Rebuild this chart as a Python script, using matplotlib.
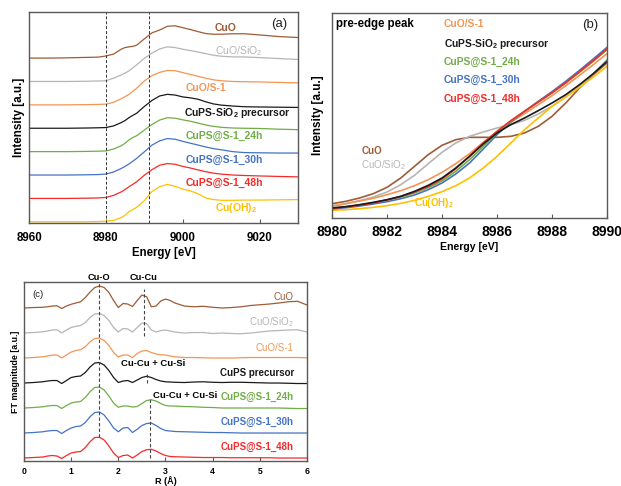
import matplotlib
matplotlib.use('Agg')
import matplotlib.pyplot as plt

plt.rcParams['font.family'] = ['Liberation Sans', 'DejaVu Sans']
plt.rcParams['mathtext.default'] = 'regular'

# ---------------- (a) XANES, stacked ----------------
energy_a = [8960, 8965, 8970, 8975, 8978, 8980, 8982, 8984, 8985, 8986, 8987, 8988,
            8990, 8992, 8994, 8996, 8998, 9000, 9002, 9004, 9006, 9008, 9010, 9013,
            9016, 9020, 9025, 9030]
cuo_a = [0, 0.0, 0.01, 0.03, 0.04, 0.09, 0.17, 0.38, 0.45, 0.48, 0.50, 0.55, 0.82, 1.08,
         1.2, 1.36, 1.38, 1.30, 1.22, 1.13, 1.05, 1.02, 1.02, 1.04, 1.04, 0.99, 0.92, 0.88]
cuo_sio2_a = [0, 0.0, 0.0, 0.01, 0.02, 0.03, 0.14, 0.28, 0.36, 0.45, 0.58, 0.71, 0.99, 1.21,
              1.39, 1.48, 1.45, 1.38, 1.32, 1.26, 1.19, 1.12, 1.08, 1.05, 1.05, 1.02, 0.98, 0.94]
cuo_s1_a = [0, 0, 0.0, 0.01, 0.02, 0.03, 0.11, 0.26, 0.35, 0.45, 0.58, 0.71, 1.02, 1.25,
            1.39, 1.47, 1.46, 1.38, 1.3, 1.22, 1.14, 1.07, 1.03, 1.0, 0.99, 0.98, 0.96, 0.94]
prec_a = [0, 0, 0.0, 0.01, 0.02, 0.03, 0.1, 0.24, 0.33, 0.45, 0.55, 0.64, 0.93, 1.19,
          1.38, 1.45, 1.42, 1.34, 1.3, 1.24, 1.13, 1.04, 0.99, 0.95, 0.92, 0.91, 0.9, 0.89]
h24_a = [0, 0, 0.0, 0.01, 0.02, 0.03, 0.11, 0.25, 0.36, 0.5, 0.6, 0.68, 0.92, 1.16,
         1.35, 1.45, 1.43, 1.36, 1.3, 1.22, 1.14, 1.08, 1.04, 1.01, 1.0, 0.99, 0.96, 0.94]
h30_a = [0, 0, 0.0, 0.01, 0.02, 0.04, 0.13, 0.28, 0.37, 0.47, 0.59, 0.71, 0.99, 1.28,
         1.46, 1.56, 1.53, 1.44, 1.36, 1.28, 1.2, 1.13, 1.08, 1.0, 0.96, 0.95, 0.94, 0.94]
h48_a = [0, 0, 0.0, 0.01, 0.02, 0.04, 0.13, 0.28, 0.38, 0.5, 0.6, 0.71, 0.99, 1.23,
         1.42, 1.49, 1.46, 1.37, 1.3, 1.22, 1.14, 1.08, 1.04, 1.0, 0.98, 0.96, 0.94, 0.92]
cuoh2_a = [0, 0, 0, 0.0, 0.01, 0.03, 0.06, 0.18, 0.28, 0.43, 0.52, 0.62, 0.9, 1.3,
           1.5, 1.6, 1.52, 1.4, 1.32, 1.2, 1.02, 0.95, 0.92, 0.92, 0.93, 0.93, 0.94, 0.95]

# ---------------- (b) pre-edge zoom ----------------
energy_b = [8980, 8980.5, 8981, 8981.5, 8982, 8982.5, 8983, 8983.5, 8984, 8984.5, 8985,
            8985.5, 8986, 8986.5, 8987, 8987.5, 8988, 8988.5, 8989, 8989.5, 8990]
cuo_b = [0.43, 0.50, 0.60, 0.73, 0.92, 1.20, 1.55, 1.90, 2.18, 2.35, 2.42, 2.42, 2.42,
         2.45, 2.55, 2.75, 3.05, 3.45, 3.90, 4.30, 4.65]
cuo_sio2_b = [0.35, 0.43, 0.52, 0.63, 0.78, 1.00, 1.28, 1.63, 1.97, 2.25, 2.45, 2.58, 2.70,
              2.80, 2.93, 3.12, 3.35, 3.63, 3.95, 4.33, 4.75]
cuo_s1_b = [0.37, 0.43, 0.51, 0.59, 0.70, 0.82, 0.97, 1.15, 1.37, 1.63, 1.93, 2.27, 2.59,
            2.87, 3.13, 3.40, 3.67, 3.97, 4.28, 4.60, 4.93]
prec_b = [0.30, 0.34, 0.40, 0.47, 0.55, 0.65, 0.80, 0.98, 1.20, 1.50, 1.85, 2.22, 2.55,
          2.80, 3.00, 3.22, 3.45, 3.70, 4.00, 4.33, 4.70]
h24_b = [0.30, 0.34, 0.39, 0.46, 0.54, 0.63, 0.75, 0.91, 1.11, 1.40, 1.75, 2.15, 2.55,
         2.90, 3.20, 3.48, 3.75, 4.05, 4.37, 4.70, 5.05]
h30_b = [0.27, 0.31, 0.36, 0.42, 0.49, 0.58, 0.69, 0.85, 1.05, 1.32, 1.65, 2.07, 2.50,
         2.88, 3.20, 3.50, 3.79, 4.10, 4.43, 4.77, 5.12]
h48_b = [0.29, 0.33, 0.38, 0.45, 0.54, 0.65, 0.78, 0.95, 1.17, 1.48, 1.85, 2.25, 2.60,
         2.92, 3.20, 3.48, 3.76, 4.06, 4.39, 4.72, 5.07]
cuoh2_b = [0.23, 0.25, 0.28, 0.32, 0.37, 0.44, 0.53, 0.65, 0.79, 0.97, 1.20, 1.50, 1.85,
           2.25, 2.65, 3.00, 3.35, 3.63, 3.92, 4.23, 4.55]

# ---------------- (c) FT-EXAFS, stacked ----------------
r_c = [0.0, 0.2, 0.4, 0.5, 0.6, 0.7, 0.8, 0.9, 1.0, 1.1, 1.2, 1.3, 1.4, 1.5, 1.6, 1.7,
       1.8, 1.9, 2.0, 2.1, 2.2, 2.3, 2.4, 2.5, 2.6, 2.7, 2.8, 2.9, 3.0, 3.1, 3.2, 3.4,
       3.6, 3.8, 4.0, 4.2, 4.4, 4.6, 4.8, 5.0, 5.2, 5.4, 5.6, 5.8, 6.0]
cuo_c = [0.0, 0.02, 0.03, 0.05, 0.08, 0.09, -0.02, 0.08, 0.15, 0.2, 0.25, 0.42, 0.64, 0.82,
         0.88, 0.82, 0.62, 0.3, 0.02, 0.18, 0.16, 0.06, 0.3, 0.52, 0.45, 0.05, 0.08, 0.28,
         0.36, 0.3, 0.2, 0.08, 0.05, 0.07, 0.03, 0.0, 0.02, 0.05, 0.1, 0.13, 0.16, 0.2,
         0.25, 0.27, 0.12]
cuo_sio2_c = [0.0, 0.02, 0.05, 0.08, 0.12, 0.13, 0.0, 0.12, 0.22, 0.27, 0.3, 0.42, 0.62,
              0.76, 0.78, 0.7, 0.5, 0.22, 0.04, 0.18, 0.16, 0.04, 0.22, 0.4, 0.38, 0.12,
              0.04, 0.1, 0.12, 0.08, 0.04, 0.0, 0.02, 0.02, -0.02, 0.0, -0.02, -0.03, 0.0,
              0.04, 0.08, 0.1, 0.12, 0.13, 0.04]
cuo_s1_c = [0.0, 0.02, 0.05, 0.08, 0.12, 0.12, 0.0, 0.12, 0.24, 0.3, 0.33, 0.45, 0.65, 0.78,
            0.8, 0.7, 0.5, 0.22, 0.04, 0.12, 0.12, 0.02, 0.18, 0.28, 0.3, 0.22, 0.16, 0.13,
            0.12, 0.08, 0.05, 0.02, 0.02, 0.01, 0.0, 0.0, 0.0, 0.01, 0.02, 0.02, 0.02, 0.02,
            0.02, 0.02, 0.01]
prec_c = [0.0, 0.02, 0.05, 0.08, 0.1, 0.1, -0.02, 0.1, 0.22, 0.26, 0.28, 0.42, 0.64, 0.8,
          0.82, 0.72, 0.5, 0.22, 0.02, 0.08, 0.1, 0.02, 0.12, 0.22, 0.27, 0.22, 0.14, 0.08,
          0.05, 0.04, 0.03, 0.02, 0.04, 0.05, 0.03, 0.02, 0.03, 0.03, 0.02, 0.01, 0.0, 0.0,
          -0.01, -0.02, -0.02]
h24_c = [0.0, 0.02, 0.05, 0.08, 0.1, 0.1, -0.02, 0.1, 0.2, 0.24, 0.26, 0.42, 0.65, 0.82,
         0.84, 0.72, 0.48, 0.2, 0.03, 0.08, 0.08, 0.04, 0.06, 0.18, 0.3, 0.33, 0.28, 0.18,
         0.1, 0.08, 0.08, 0.06, 0.05, 0.03, 0.02, 0.0, 0.0, 0.0, 0.0, 0.0, 0.0, 0.0, -0.01,
         -0.02, -0.02]
h30_c = [0.0, 0.02, 0.05, 0.08, 0.1, 0.1, -0.02, 0.1, 0.2, 0.26, 0.28, 0.42, 0.65, 0.82,
         0.84, 0.72, 0.48, 0.2, 0.05, 0.2, 0.22, 0.02, 0.15, 0.3, 0.38, 0.4, 0.3, 0.18, 0.1,
         0.08, 0.06, 0.05, 0.04, 0.03, 0.02, 0.02, 0.01, 0.0, 0.0, 0.0, 0.0, 0.0, 0.0, 0.0,
         0.0]
h48_c = [0.0, 0.02, 0.04, 0.08, 0.1, 0.08, -0.02, 0.1, 0.2, 0.24, 0.26, 0.42, 0.65, 0.82,
         0.83, 0.72, 0.48, 0.2, 0.02, 0.1, 0.12, 0.0, 0.12, 0.26, 0.33, 0.35, 0.28, 0.18,
         0.1, 0.06, 0.05, 0.04, 0.03, 0.02, 0.02, 0.02, 0.01, 0.01, 0.01, 0.01, 0.01, 0.0,
         0.0, 0.0, 0.0]

# colours
c_cuo = '#9e5b36'
c_sio2 = '#b5b5b5'
c_s1 = '#f39555'
c_prec = '#1a1a1a'
c_24 = '#70ad47'
c_30 = '#4472c4'
c_48 = '#f52a2a'
c_oh = '#ffc000'
spine_col = '#595959'

fig = plt.figure(figsize=(6.21, 4.86), dpi=100)


def style_axes(ax, tick_size, pad):
    for s in ax.spines.values():
        s.set_color(spine_col)
        s.set_linewidth(1.0)
    ax.set_yticks([])
    ax.tick_params(axis='x', direction='in', length=3, color=spine_col,
                   labelsize=tick_size, pad=pad)
    for lab in ax.get_xticklabels():
        lab.set_fontweight('bold')


# ---- panel (a)
ax_a = fig.add_axes([0.0467, 0.5412, 0.4332, 0.4341])
series_a = [(cuo_a, 7, c_cuo), (cuo_sio2_a, 6, c_sio2), (cuo_s1_a, 5, c_s1),
            (prec_a, 4, c_prec), (h24_a, 3, c_24), (h30_a, 2, c_30),
            (h48_a, 1, c_48), (cuoh2_a, 0, c_oh)]
for vals, off, col in series_a:
    ax_a.plot(energy_a, [v + off for v in vals], color=col, lw=0.9)
ax_a.axvline(8980, color='#333333', ls='--', lw=0.7, dashes=(3, 2))
ax_a.axvline(8991.2, color='#333333', ls='--', lw=0.7, dashes=(3, 2))
ax_a.set_xlim(8960, 9030)
ax_a.set_ylim(-0.05, 8.97)
ax_a.set_xticks([8960, 8980, 9000, 9020])
style_axes(ax_a, 8.3, 6.5)
ax_a.set_ylabel('Intensity [a.u.]', fontsize=8.4, fontweight='bold', labelpad=3)
ax_a.set_xlabel('Energy [eV]', fontsize=8.3, fontweight='bold', labelpad=2)

labels_a = [('CuO', 9008.3, 8.29, c_cuo, 'bold'),
            ('CuO/SiO$_2$', 9008.4, 7.28, c_sio2, 'normal'),
            ('CuO/S-1', 9000.7, 5.72, c_s1, 'bold'),
            ('CuPS-SiO$_2$ precursor', 9000.3, 4.64, c_prec, 'bold'),
            ('CuPS@S-1_24h', 9000.7, 3.65, c_24, 'bold'),
            ('CuPS@S-1_30h', 9000.7, 2.66, c_30, 'bold'),
            ('CuPS@S-1_48h', 9000.7, 1.66, c_48, 'bold'),
            ('Cu(OH)$_2$', 9008.4, 0.61, c_oh, 'bold')]
for txt, x, y, col, w in labels_a:
    ax_a.text(x, y, txt, color=col, fontsize=7.5, fontweight=w, va='center', ha='left')
ax_a.text(9025.2, 8.44, '(a)', fontsize=9.5, va='center', ha='center', color='#222222')

# ---- panel (b)
ax_b = fig.add_axes([0.5346, 0.5514, 0.4429, 0.4219])
series_b = [(cuo_b, c_cuo), (cuo_sio2_b, c_sio2), (cuoh2_b, c_oh), (cuo_s1_b, c_s1),
            (h30_b, c_30), (h24_b, c_24), (h48_b, c_48), (prec_b, c_prec)]
for vals, col in series_b:
    ax_b.plot(energy_b, vals, color=col, lw=1.2)
ax_b.set_xlim(8980, 8990)
ax_b.set_ylim(0, 6.15)
ax_b.set_xticks([8980, 8982, 8984, 8986, 8988, 8990])
style_axes(ax_b, 10, 5)
ax_b.set_ylabel('Intensity [a.u.]', fontsize=8.5, fontweight='bold', labelpad=6)
ax_b.set_xlabel('Energy [eV]', fontsize=7.6, fontweight='bold', labelpad=2)

ax_b.text(8980.16, 5.83, 'pre-edge peak', fontsize=8.3, fontweight='bold', va='center')
labels_b = [('CuO/S-1', 5.83, c_s1), ('CuPS-SiO$_2$ precursor', 5.22, c_prec),
            ('CuPS@S-1_24h', 4.67, c_24), ('CuPS@S-1_30h', 4.13, c_30),
            ('CuPS@S-1_48h', 3.58, c_48)]
for txt, y, col in labels_b:
    ax_b.text(8984.06, y, txt, color=col, fontsize=7.4, fontweight='bold', va='center')
ax_b.text(8981.07, 2.0, 'CuO', color=c_cuo, fontsize=7.0, fontweight='bold', va='center')
ax_b.text(8981.05, 1.58, 'CuO/SiO$_2$', color=c_sio2, fontsize=7.0, va='center')
ax_b.text(8983.0, 0.45, 'Cu(OH)$_2$', color=c_oh, fontsize=7.0, fontweight='bold',
          va='center')
ax_b.text(8989.37, 5.8, '(b)', fontsize=9.5, va='center', ha='center', color='#222222')

# ---- panel (c)
ax_c = fig.add_axes([0.0386, 0.0514, 0.4558, 0.3683])
series_c = [(cuo_c, 6, c_cuo), (cuo_sio2_c, 5, c_sio2), (cuo_s1_c, 4, c_s1),
            (prec_c, 3, c_prec), (h24_c, 2, c_24), (h30_c, 1, c_30), (h48_c, 0, c_48)]
for vals, off, col in series_c:
    ax_c.plot(r_c, [v + off for v in vals], color=col, lw=0.9)
ax_c.set_xlim(0, 6)
ax_c.set_ylim(-0.12, 7.04)
ax_c.set_xticks([0, 1, 2, 3, 4, 5, 6])
style_axes(ax_c, 6.2, 4.5)
ax_c.set_ylabel('FT magnitude [a.u.]', fontsize=6.4, fontweight='bold', labelpad=3)
ax_c.set_xlabel('R (Å)', fontsize=6.5, fontweight='bold')
ax_c.xaxis.set_label_coords(0.5, -0.082)

# dashed guide lines
dash_kw = dict(color='#444444', ls='--', lw=0.8, dashes=(3, 2))
ax_c.plot([1.58, 1.58], [0.85, 7.04], **dash_kw)
ax_c.plot([2.54, 2.54], [4.88, 6.75], **dash_kw)
ax_c.plot([2.61, 2.61], [3.0, 3.45], **dash_kw)
ax_c.plot([2.67, 2.67], [0.0, 2.45], **dash_kw)

ax_c.text(1.58, 7.22, 'Cu-O', fontsize=6.7, fontweight='bold', ha='center', va='center')
ax_c.text(2.54, 7.22, 'Cu-Cu', fontsize=6.7, fontweight='bold', ha='center', va='center')
ax_c.text(2.74, 3.8, 'Cu-Cu + Cu-Si', fontsize=6.8, fontweight='bold', ha='center',
          va='center')
ax_c.text(2.73, 2.49, 'Cu-Cu + Cu-Si', fontsize=6.8, fontweight='bold', ha='left',
          va='center')
ax_c.text(0.3, 6.56, '(c)', fontsize=6.8, ha='center', va='center', color='#222222')

labels_c = [('CuO', 6.45, c_cuo, 'normal'), ('CuO/SiO$_2$', 5.45, c_sio2, 'normal'),
            ('CuO/S-1', 4.41, c_s1, 'normal'), ('CuPS precursor', 3.41, c_prec, 'bold'),
            ('CuPS@S-1_24h', 2.45, c_24, 'bold'), ('CuPS@S-1_30h', 1.43, c_30, 'bold'),
            ('CuPS@S-1_48h', 0.43, c_48, 'bold')]
for txt, y, col, w in labels_c:
    ax_c.text(5.72, y, txt, color=col, fontsize=7.0, fontweight=w, ha='right', va='center')

fig.savefig('out.png', dpi=100)
